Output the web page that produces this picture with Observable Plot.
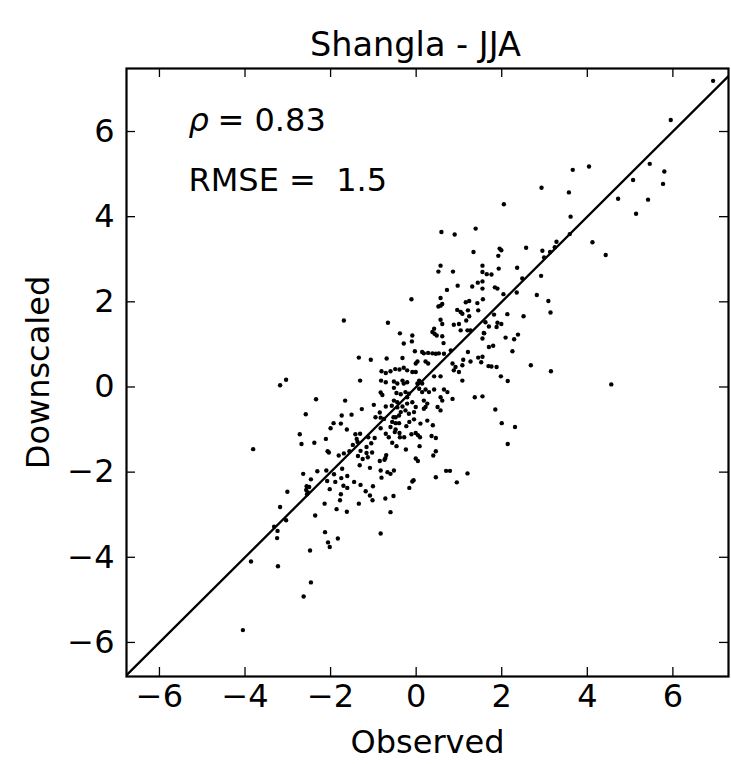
<!DOCTYPE html>
<html><head><meta charset="utf-8">
<script src="https://cdn.jsdelivr.net/npm/d3@7"></script>
<script src="https://cdn.jsdelivr.net/npm/@observablehq/plot@0.6"></script>
<style>body{margin:0;background:#fff}</style>
</head><body><div id="chart"></div>
<script>
const title = "Shangla - JJA";
const xLabel = "Observed";
const yLabel = "Downscaled";
const tickValues = [-6, -4, -2, 0, 2, 4, 6];
const xDomain = [-6.77, 7.3];
const yDomain = [-6.8, 7.48];
const rhoSymbol = "ρ";
const rhoText = "= 0.83";
const rmseText = "RMSE =  1.5";
const identityLine = [-8, 8];

const observed = [
6.94,5.95,5.46,5.80,5.07,5.77,4.72,5.42,5.14,4.12,
4.43,4.56,3.66,4.04,2.93,3.57,2.05,3.61,3.28,3.59,
2.95,3.13,3.24,2.99,2.57,1.95,1.99,1.92,1.55,1.93,
1.55,1.65,1.76,1.55,2.36,2.48,2.92,1.55,1.84,1.90,
2.04,2.35,2.82,3.09,3.14,2.13,2.51,1.82,1.62,1.70,
1.90,1.99,1.88,1.58,1.55,2.09,2.29,2.38,1.70,1.80,
2.25,1.55,1.52,1.69,1.76,1.88,2.68,3.15,1.98,2.14,
1.55,1.85,2.00,2.31,2.14,-0.56,-0.48,-0.40,-0.16,0.10,
0.39,-0.23,-0.50,-0.39,-0.28,-0.38,-0.11,-0.01,0.04,0.09,
0.36,0.46,-0.56,-0.46,0.08,-0.24,0.46,0.40,-0.01,0.04,
-0.52,-0.60,0.70,0.79,1.20,0.46,0.95,-0.06,-0.09,-0.16,
-0.53,-0.60,-3.81,-2.68,-2.38,-2.07,-2.04,-1.81,-1.69,-1.56,
-1.48,-1.37,-1.16,-1.05,-1.36,-1.30,-1.16,-1.13,-1.03,-1.25,
-1.32,-1.08,-0.85,-0.74,-0.70,-0.72,-0.83,-0.67,-0.81,-0.72,
-0.83,-2.64,-2.31,-2.10,-2.46,-2.56,-2.50,-2.57,-2.53,-2.55,
-2.08,-1.92,-1.73,-1.89,-2.02,-1.75,-1.61,-1.70,-1.61,-1.45,
-1.30,-1.18,-1.08,-1.02,-1.01,-1.76,-1.78,-1.34,-2.14,-1.86,
-1.62,-3.01,-3.18,-3.04,-2.36,-3.32,-3.24,-3.25,-2.13,-2.06,
-2.02,-1.83,-2.48,-3.86,-3.23,-2.46,-2.63,-4.05,-1.69,-0.66,
-0.38,-3.18,-3.04,-1.34,-1.06,-0.69,-1.31,-0.81,-0.71,-0.60,
-0.49,-0.39,-0.82,-0.71,-0.52,-0.44,-2.34,-1.66,-0.83,-0.79,
-0.52,-0.46,-2.58,-1.74,-1.51,-1.27,-0.99,-0.71,-0.57,-0.85,
-0.95,-0.83,-0.75,-0.53,-1.76,-1.93,-2.00,-1.62,-2.72,-2.11,
-1.42,-1.31,-1.39,-1.12,-0.97,-0.71,-0.83,-0.64,-0.48,-0.60,
0.57,0.61,0.96,1.04,1.08,1.21,1.24,1.16,1.43,1.45,
1.17,1.00,0.88,0.61,0.57,0.42,0.38,0.43,0.48,0.61,
1.04,1.20,1.27,-0.09,-0.10,-0.29,0.64,1.59,-0.03,0.14,
0.18,0.28,0.38,0.46,0.53,0.65,0.81,1.21,1.45,-0.32,
-0.29,-0.21,-0.01,0.03,0.22,0.28,-0.09,-0.01,0.85,0.92,
1.10,1.08,1.27,0.88,1.00,0.42,0.57,1.08,0.07,0.03,
0.14,-0.32,-0.29,-0.21,0.22,0.30,0.42,0.65,0.73,-0.36,
-0.25,-0.17,-0.21,0.07,0.14,0.57,0.61,0.85,1.37,-0.52,
-0.44,-0.44,-0.32,-0.21,-0.09,0.18,0.26,-0.01,0.18,0.22,
0.50,0.57,-0.36,-0.25,-0.17,-0.05,-0.48,-0.40,-0.05,0.26,
0.59,0.90,1.39,1.34,0.57,0.52,0.86,1.44,1.31,0.97,
0.72,-0.11,0.57,0.52,1.24,1.56];

const downscaled = [
7.19,6.27,5.24,5.06,4.86,4.77,4.42,4.40,4.07,3.40,
3.10,0.06,5.10,5.18,4.68,4.57,4.29,4.00,3.41,3.59,
3.20,3.17,3.28,3.04,3.27,3.25,3.21,3.08,2.85,2.78,
2.70,2.65,2.64,2.48,2.80,2.55,2.61,2.31,2.34,2.31,
2.18,2.22,2.16,2.02,1.75,1.71,1.66,1.70,1.52,1.42,
1.51,1.48,1.41,1.27,1.14,1.16,1.12,1.23,0.94,0.97,
0.84,0.71,0.58,0.49,0.48,0.47,0.51,0.37,0.25,0.14,
-0.22,-0.53,-0.85,-0.94,-1.34,-0.82,-0.85,-0.85,-0.82,-0.86,
-0.90,-0.92,-1.06,-1.08,-1.18,-1.18,-1.11,-1.08,-1.13,-1.18,
-1.15,-1.20,-1.31,-1.39,-1.39,-1.47,-1.51,-1.61,-1.68,-1.74,
-1.96,-2.04,-1.97,-1.97,-2.03,-2.12,-2.24,-2.19,-2.22,-2.37,
-2.56,-2.94,-1.46,-1.34,-1.31,-1.51,-1.54,-1.61,-1.56,-1.51,
-1.36,-1.29,-1.41,-1.32,-1.62,-1.50,-1.55,-1.65,-1.54,-1.69,
-1.84,-1.90,-1.74,-1.71,-1.60,-1.67,-1.96,-2.00,-2.13,-2.62,
-3.44,-2.04,-1.98,-1.96,-2.17,-2.33,-2.35,-2.42,-2.48,-2.52,
-2.21,-2.05,-1.92,-2.23,-2.40,-2.14,-2.09,-2.32,-2.37,-2.23,
-2.30,-2.45,-2.55,-2.66,-2.33,-2.52,-2.66,-2.74,-2.74,-2.87,
-2.93,-2.46,-2.82,-3.13,-3.02,-3.28,-3.38,-3.55,-3.41,-3.65,
-3.76,-3.56,-3.84,-4.10,-4.21,-4.59,-4.92,-5.71,1.56,1.51,
1.26,0.04,0.17,0.69,0.64,0.67,0.15,0.37,0.33,0.37,
0.42,0.41,0.15,0.11,0.13,0.08,-0.29,-0.32,-0.13,-0.19,
-0.02,-0.14,-0.64,-0.67,-0.65,-0.52,-0.42,-0.46,-0.44,-0.60,
-0.71,-0.72,-0.75,-0.71,-0.86,-0.85,-0.97,-1.00,-1.11,-1.22,
-1.11,-1.10,-1.22,-1.18,-1.20,-1.10,-0.97,-1.18,-1.00,-0.94,
1.91,1.95,1.81,1.76,1.72,1.80,1.66,1.99,1.97,1.80,
1.56,1.48,1.46,1.48,1.58,1.37,1.29,1.25,1.21,1.19,
1.33,1.33,1.33,1.21,1.07,1.02,1.03,1.26,0.84,0.82,
0.79,0.80,0.79,0.78,0.79,0.78,0.86,0.82,0.69,0.68,
0.45,0.39,0.55,0.60,0.60,0.55,0.35,0.35,0.55,0.47,
0.64,0.51,0.60,0.39,0.35,0.25,0.25,0.15,0.15,0.08,
0.08,0.15,0.08,0.11,-0.06,-0.12,-0.06,-0.06,-0.12,-0.17,
-0.12,-0.16,-0.24,-0.04,-0.12,-0.24,-0.32,-0.28,-0.24,-0.32,
-0.36,-0.48,-0.46,-0.39,-0.36,-0.32,-0.39,-0.47,-0.51,-0.47,
-0.47,-0.55,-0.59,-0.55,-0.63,-0.59,-0.71,-0.67,-0.76,-0.79,
3.64,3.58,3.72,3.17,2.85,2.71,2.71,2.45,2.36,2.38,
2.28,2.06,2.09,1.89,2.02,2.06];

const n = Math.min(observed.length, downscaled.length);
const points = d3.range(n).map(i => ({x: observed[i], y: downscaled[i]}));
const diag = identityLine.map(v => ({x: v, y: v}));
const fmt = d => d < 0 ? "\u2212" + Math.abs(d) : String(d);

const W = 731, H = 764, mL = 126, mR = 3, mT = 68, mB = 88;
const innerW = W - mL - mR, innerH = H - mT - mB;
const tickLen = 9;
const fs = 32;

const chart = Plot.plot({
  width: W, height: H,
  marginLeft: mL, marginRight: mR, marginTop: mT, marginBottom: mB,
  style: {fontFamily: "'DejaVu Sans', sans-serif", fontSize: fs + "px", background: "#fff", color: "#000", overflow: "visible"},
  x: {domain: xDomain, label: null},
  y: {domain: yDomain, label: null},
  marks: [
    Plot.line(diag, {x: "x", y: "y", stroke: "#000", strokeWidth: 2.3, clip: true}),
    Plot.dot(points, {x: "x", y: "y", r: 2.2, fill: "#000", stroke: "none"}),
    // inward ticks on all four sides
    Plot.ruleX(tickValues, {x: d => d, insetTop: innerH - tickLen, stroke: "#000", strokeWidth: 1.3}),
    Plot.ruleX(tickValues, {x: d => d, insetBottom: innerH - tickLen, stroke: "#000", strokeWidth: 1.3}),
    Plot.ruleY(tickValues, {y: d => d, insetRight: innerW - tickLen, stroke: "#000", strokeWidth: 1.3}),
    Plot.ruleY(tickValues, {y: d => d, insetLeft: innerW - tickLen, stroke: "#000", strokeWidth: 1.3}),
    Plot.axisX(tickValues, {anchor: "bottom", tickSize: 0, tickPadding: 8, tickFormat: fmt, fontSize: fs, label: null}),
    Plot.axisY(tickValues, {anchor: "left", tickSize: 0, tickPadding: 12, tickFormat: fmt, fontSize: fs, label: null}),
    Plot.frame({stroke: "#000", strokeWidth: 2.2}),
    Plot.text([title], {text: d => d, frameAnchor: "top", dx: -12, dy: -23, textAnchor: "middle", lineAnchor: "middle", fontSize: 33.5}),
    Plot.text([xLabel], {text: d => d, frameAnchor: "bottom", dy: 66, textAnchor: "middle", lineAnchor: "middle", fontSize: fs}),
    Plot.text([yLabel], {text: d => d, frameAnchor: "left", dx: -88, rotate: -90, textAnchor: "middle", lineAnchor: "middle", fontSize: fs}),
    Plot.text([rhoSymbol], {text: d => d, frameAnchor: "top-left", dx: 62, dy: 52, textAnchor: "start", lineAnchor: "middle", fontStyle: "italic", fontSize: fs}),
    Plot.text([rhoText], {text: d => d, frameAnchor: "top-left", dx: 91, dy: 52, textAnchor: "start", lineAnchor: "middle", fontSize: fs}),
    Plot.text([rmseText], {text: d => d, frameAnchor: "top-left", dx: 62, dy: 112, textAnchor: "start", lineAnchor: "middle", fontSize: fs})
  ]
});
document.getElementById("chart").appendChild(chart);
</script>
</body></html>
